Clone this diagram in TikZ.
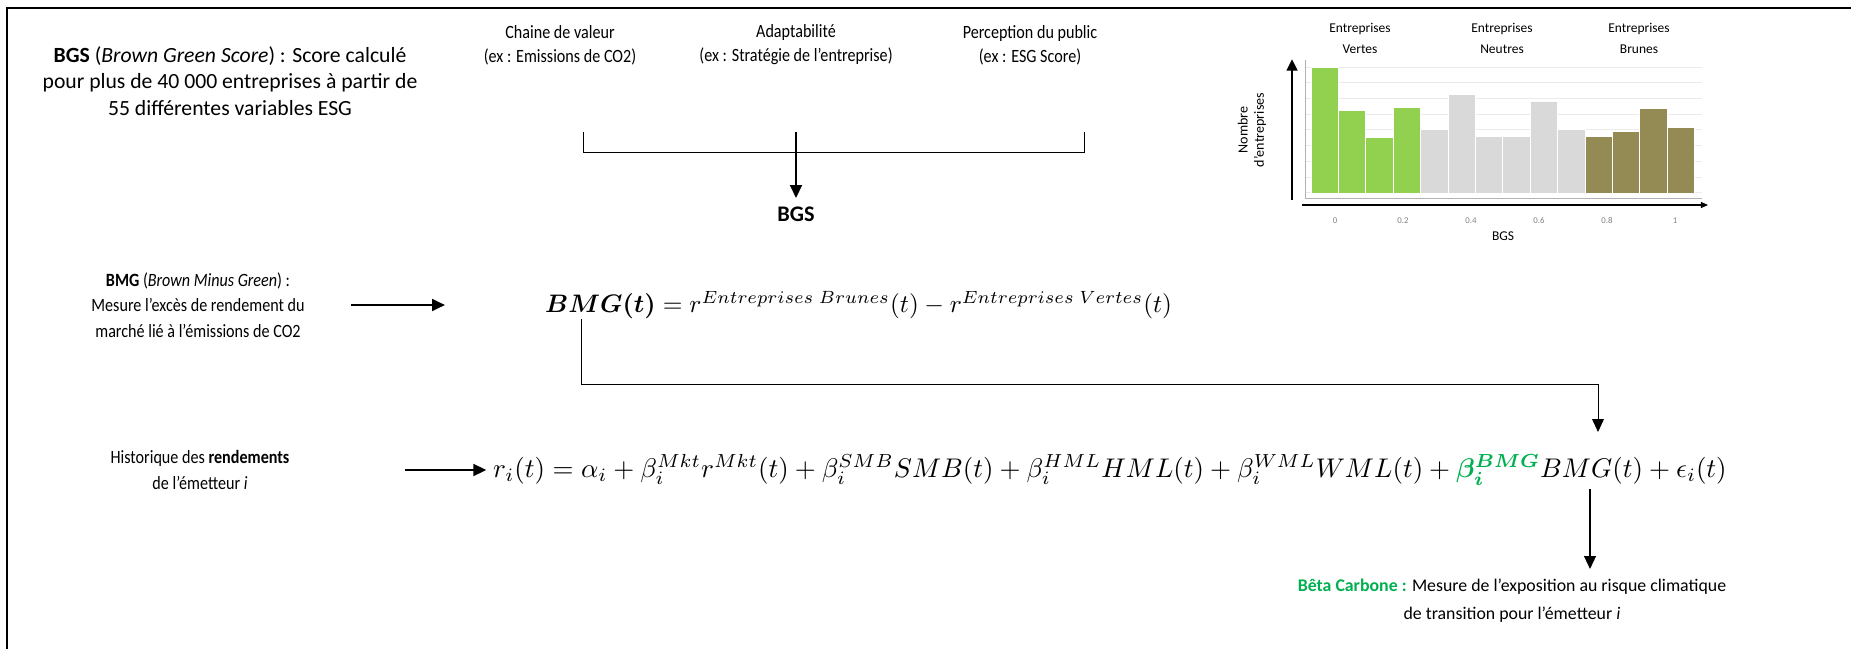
\documentclass[tikz,border=0pt]{standalone}
\usepackage{fontspec}
\setmainfont{Carlito}
\newfontfamily\etroit[FakeStretch=0.86]{Carlito}
\usepackage{amsmath,bm}
\usepackage{graphicx}
\usetikzlibrary{arrows.meta,positioning}
\definecolor{vert}{HTML}{92D050}
\definecolor{neutre}{HTML}{D9D9D9}
\definecolor{brun}{HTML}{948A54}
\definecolor{betavert}{HTML}{00B050}
\definecolor{grille}{HTML}{EBEBEB}
\tikzset{
  txt/.style={align=center, inner sep=0pt, font=\fontsize{18.5}{22.5}\selectfont},
  petit/.style={align=center, inner sep=0pt, font=\etroit\fontsize{16}{22}\selectfont},
  haut/.style={align=center, inner sep=0pt, font=\etroit\fontsize{16}{20.5}\selectfont},
  hist/.style={align=center, inner sep=0pt, font=\fontsize{11.5}{18}\selectfont},
  graduation/.style={inner sep=0pt, text=gray, font=\fontsize{7.5}{9}\selectfont},
  fleche/.style={line width=2pt, -{Triangle[length=11pt,width=10pt]}},
  trait/.style={line width=0.8pt},
  barre/.style={draw=white, line width=0.6pt},
}
\begin{document}
\begin{tikzpicture}[x=0.03cm, y=-0.03cm]
\useasboundingbox (0,0) rectangle (1851,649);
\draw[line width=2.5pt] (7,649) -- (7,8) -- (1851,8);

% BGS
\node[txt] (bgs) at (230,81) {\textbf{BGS} (\textit{Brown Green Score}) : Score calculé\\pour plus de 40 000 entreprises à partir de\\55 différentes variables ESG};
\node[haut] (chaine) at (560,45) {Chaine de valeur\\(ex : Emissions de CO2)};
\node[haut] (adapt) at (796,45) {Adaptabilité\\(ex : Stratégie de l’entreprise)};
\node[haut] (percep) at (1030,45) {Perception du public\\(ex : ESG Score)};
\coordinate (crochetg) at (583,132);
\coordinate (crochetd) at (1084,132);
\draw[trait] (crochetg) -- ++(0,20) -| (crochetd);
\node[txt, font=\bfseries\fontsize{19}{22}\selectfont] (bgsres) at (796,214) {BGS};
\draw[fleche, shorten >=0.25cm] (adapt.south |- crochetg) -- (bgsres.north);

% histogramme
\foreach \k in {0,...,8}
  \draw[grille, line width=0.6pt] (1305,67+\k*15.7) -- (1702,67+\k*15.7);
\draw[gray!60, line width=0.6pt] (1305,60) -- (1305,198) -- (1702,198);
\foreach \t [count=\i from 0] in {67.7,110.2,137,106.9}
  \fill[vert, barre] (1311+\i*27.4,193.3) rectangle ++(27.4,\t-193.3);
\foreach \t [count=\i from 4] in {129.7,94.5,136,136,101.2,129.7}
  \fill[neutre, barre] (1311+\i*27.4,193.3) rectangle ++(27.4,\t-193.3);
\foreach \t [count=\i from 10] in {136,131.3,107.9,127}
  \fill[brun, barre] (1311+\i*27.4,193.3) rectangle ++(27.4,\t-193.3);
\coordinate (yaxebas) at (1292,200);
\coordinate (yaxehaut) at (1292,59);
\coordinate (xaxeg) at (1302,205);
\coordinate (xaxed) at (1708,205);
\draw[line width=2.5pt, -{Triangle[length=10pt,width=9pt]}] (yaxebas) -- (yaxehaut);
\draw[line width=1pt, -{Triangle[length=6pt,width=5pt]}] (xaxeg) -- (xaxed);
\foreach \v [count=\i from 0] in {0,0.2,0.4,0.6,0.8,1}
  \node[graduation] (g\i) at (1335+\i*68,221) {\v};
\node[hist] (bgsaxe) at (1503,236) {BGS};
\node[hist, rotate=90, font=\fontsize{12}{14}\selectfont] (ylab) at (1252,130) {Nombre\\d’entreprises};
\node[hist] (tvertes) at (1360,38) {Entreprises\\Vertes};
\node[hist] (tneutres) at (1502,38) {Entreprises\\Neutres};
\node[hist] (tbrunes) at (1639,38) {Entreprises\\Brunes};

% BMG
\node[petit] (bmgtxt) at (198,305) {\textbf{BMG} (\textit{Brown Minus Green}) :\\Mesure l’excès de rendement du\\marché lié à l’émissions de CO2};
\node[inner sep=0pt, anchor=west] (bmgeq) at (545,305) {\resizebox{18.8cm}{!}{$\bm{BMG(t)} = r^{Entreprises\ Brunes}(t) - r^{Entreprises\ Vertes}(t)$}};
\draw[fleche] (bmgtxt.east -| 351,0) -- ([xshift=-3cm]bmgeq.west);

% rendements
\node[petit] (histo) at (200,470) {Historique des \textbf{rendements}\\de l’émetteur \textit{i}};
\node[inner sep=0pt, anchor=west] (regeq) at (493,470) {\resizebox{37cm}{!}{$r_i(t) = \alpha_i + \beta_i^{Mkt} r^{Mkt}(t) + \beta_i^{SMB} SMB(t) + \beta_i^{HML} HML(t) + \beta_i^{WML} WML(t) + {\color{betavert}\bm{\beta_i^{BMG}}} BMG(t) + \epsilon_i(t)$}};
\draw[fleche] (histo.east -| 405,0) -- ([xshift=-0.2cm]regeq.west);
\coordinate (bmgterme) at (1598,432);
\draw[trait, -{Triangle[length=11pt,width=10pt]}] ([xshift=1.1cm]bmgeq.south west) -- ++(0,65) -| (bmgterme);

% beta carbone
\node[petit, font=\fontsize{15.2}{24}\selectfont] (beta) at (1512,601) {\textcolor{betavert}{\textbf{Bêta Carbone :}} Mesure de l’exposition au risque climatique\\de transition pour l’émetteur \textit{i}};
\coordinate (betapied) at (1590,489);
\draw[fleche, line width=1.5pt, shorten >=0.3cm] (betapied) -- (betapied |- beta.north);
\end{tikzpicture}
\end{document}
